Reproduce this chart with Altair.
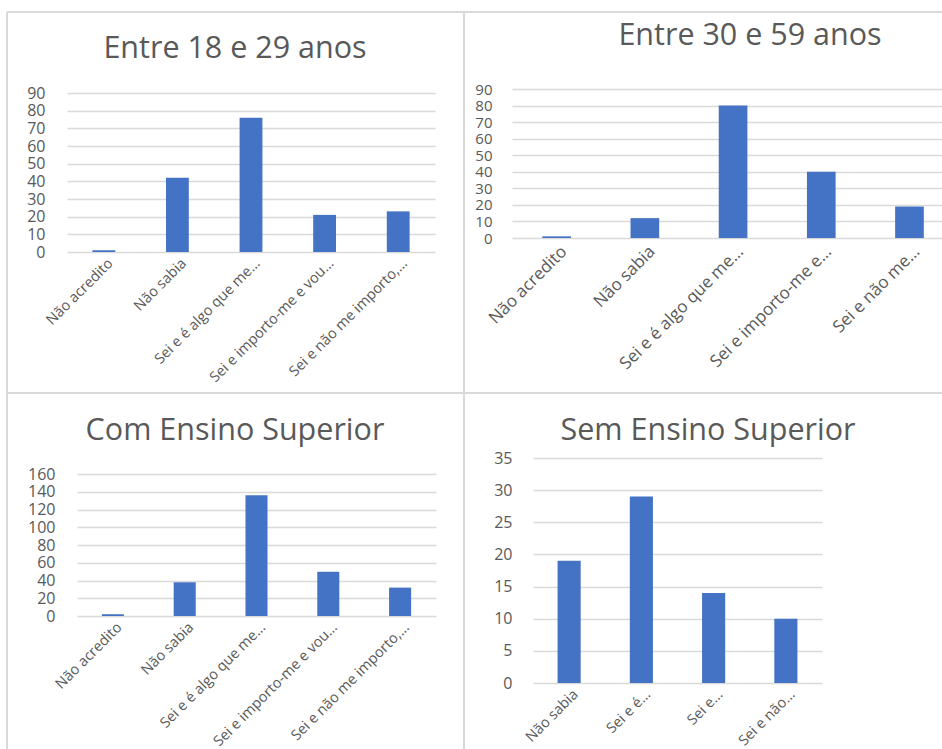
import altair as alt
import pandas as pd

# Canvas and styling
W, H = 942, 749
FONT = "Open Sans"
BAR_COLOR = "#4472C4"
TEXT_COLOR = "#595959"
GRID_COLOR = "#d9d9d9"
FRAME_COLOR = "#d9d9d9"

# Survey answers per group
cats_18_29 = ["Não acredito", "Não sabia", "Sei e é algo que me…",
              "Sei e importo-me e vou…", "Sei e não me importo,…"]
vals_18_29 = [1, 42, 76, 21, 23]

cats_30_59 = ["Não acredito", "Não sabia", "Sei e é algo que me…",
              "Sei e importo-me e…", "Sei e não me…"]
vals_30_59 = [1, 12, 80, 40, 19]

cats_com_sup = ["Não acredito", "Não sabia", "Sei e é algo que me…",
                "Sei e importo-me e vou…", "Sei e não me importo,…"]
vals_com_sup = [2, 38, 136, 50, 32]

cats_sem_sup = ["Não sabia", "Sei e é…", "Sei e…", "Sei e não…"]
vals_sem_sup = [19, 29, 14, 10]


def panel(cats, vals, x_range, y_range, y_max, y_step, pad_inner, pad_outer,
          align, y_label_pad, x_label_pad, y_font, x_font):
    df = pd.DataFrame({"categoria": cats, "valor": vals})
    return alt.Chart(df).mark_bar(color=BAR_COLOR).encode(
        x=alt.X(
            "categoria:N", sort=None, title=None,
            scale=alt.Scale(range=x_range, paddingInner=pad_inner,
                            paddingOuter=pad_outer, align=align),
            axis=alt.Axis(orient="bottom", offset=y_range[0] - H, domain=False,
                          ticks=False, tickSize=0, grid=False, labelAngle=-45,
                          labelAlign="right", labelBaseline="top",
                          labelPadding=x_label_pad, labelOffset=2,
                          labelFont=FONT, labelFontSize=x_font,
                          labelColor=TEXT_COLOR, labelLimit=400),
        ),
        y=alt.Y(
            "valor:Q", title=None,
            scale=alt.Scale(domain=[0, y_max], range=y_range, nice=False),
            axis=alt.Axis(orient="left", offset=-x_range[0],
                          values=list(range(0, y_max + 1, y_step)),
                          domain=False, ticks=False, tickSize=0, grid=True,
                          gridColor=GRID_COLOR, gridWidth=1.3,
                          labelPadding=y_label_pad, labelFont=FONT,
                          labelFontSize=y_font, labelColor=TEXT_COLOR,
                          labelOverlap=False),
        ),
    )


def heading(text, x, y):
    return alt.Chart(pd.DataFrame({"t": [text]})).mark_text(
        font=FONT, fontSize=30.5, color=TEXT_COLOR, align="center",
        baseline="alphabetic",
    ).encode(text="t:N", x=alt.value(x), y=alt.value(y))


def vline(x, y0, y1):
    return alt.Chart(pd.DataFrame({"k": [0]})).mark_rule(
        color=FRAME_COLOR, strokeWidth=2
    ).encode(x=alt.value(x), y=alt.value(y0), y2=alt.value(y1))


def hline(y, x0, x1):
    return alt.Chart(pd.DataFrame({"k": [0]})).mark_rule(
        color=FRAME_COLOR, strokeWidth=2
    ).encode(y=alt.value(y), x=alt.value(x0), x2=alt.value(x1))


layers = [
    vline(7, 12, H), vline(464, 12, H),
    hline(12, 7, W), hline(393, 7, W),
    panel(cats_18_29, vals_18_29, [67, 435], [252, 93], 90, 10,
          0.69, 0.345, 0.5, 22, 4, 16, 14.5),
    panel(cats_30_59, vals_30_59, [512, 942], [238, 89], 90, 10,
          0.675, 0.275, 0.625, 20, 5, 15, 17),
    panel(cats_com_sup, vals_com_sup, [77, 436], [616, 474], 160, 20,
          0.693, 0.3465, 0.5, 22, 4, 16, 14.5),
    panel(cats_sem_sup, vals_sem_sup, [533, 822], [683, 458], 35, 5,
          0.68, 0.34, 0.5, 21, 4, 16, 14.5),
    heading("Entre 18 e 29 anos", 235, 58),
    heading("Entre 30 e 59 anos", 750, 45),
    heading("Com Ensino Superior", 235, 440),
    heading("Sem Ensino Superior", 708, 440),
]

chart = alt.layer(*layers).resolve_scale(
    x="independent", y="independent"
).resolve_axis(
    x="independent", y="independent"
).properties(
    width=W, height=H, autosize="none", padding=0
).configure_view(stroke=None)

chart.save("out.html", embed_options={"renderer": "svg", "actions": False})
